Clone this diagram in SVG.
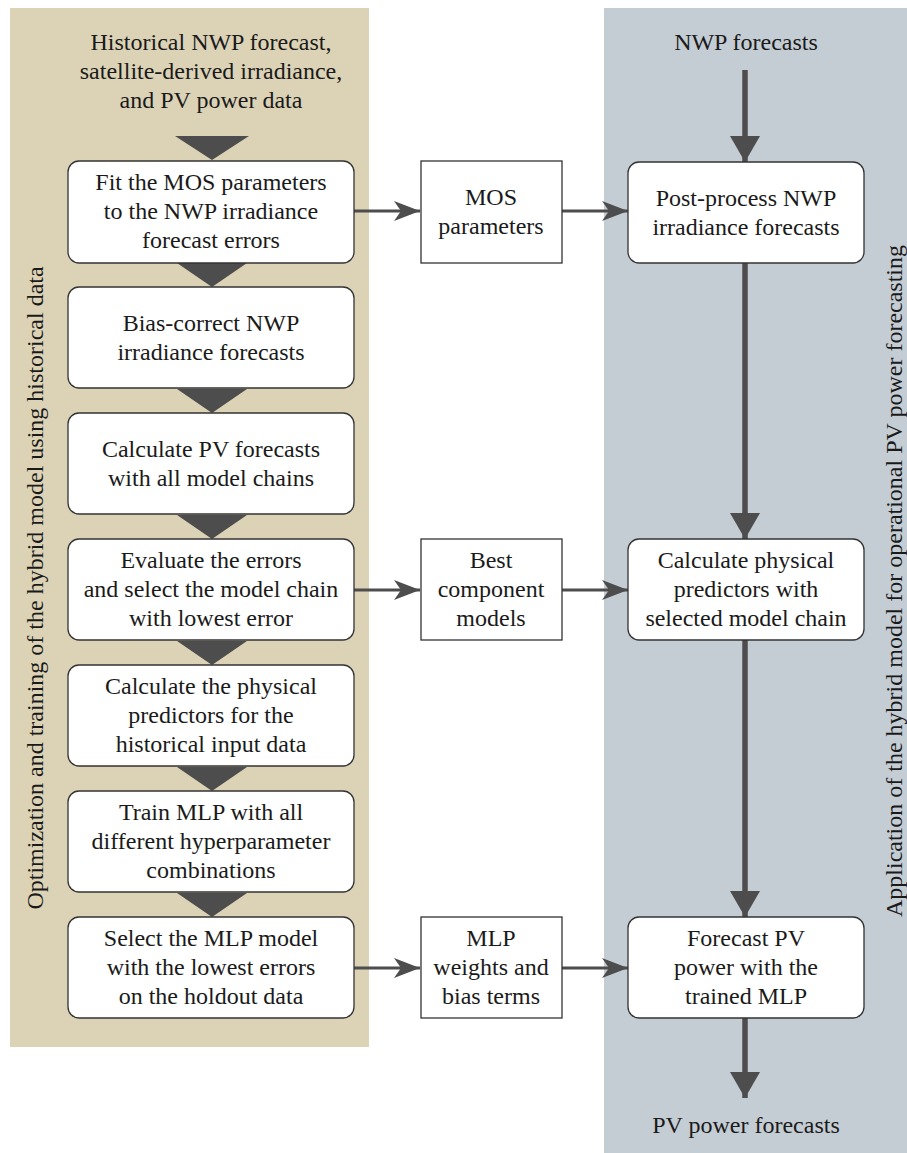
<svg xmlns="http://www.w3.org/2000/svg" width="907" height="1153" viewBox="0 0 907 1153">
<defs>
<marker id="ah" markerUnits="userSpaceOnUse" markerWidth="26" markerHeight="20" refX="26" refY="10" orient="auto" viewBox="0 0 26 20">
<path d="M0,0 L26,10 L0,20 L7,10 z" fill="#4d4d4d"/>
</marker>
<marker id="av" markerUnits="userSpaceOnUse" markerWidth="26" markerHeight="30" refX="26" refY="15" orient="auto" viewBox="0 0 26 30">
<path d="M0,0 L26,15 L0,30 z" fill="#4d4d4d"/>
</marker>
</defs>
<rect x="0" y="0" width="907" height="1153" fill="#fff"/>
<rect id="panel-left" x="10" y="8" width="359" height="1039" fill="#dcd3b7"/>
<rect id="panel-right" x="604" y="8" width="303" height="1145" fill="#c5cdd4"/>
<text font-family="Times New Roman, Liberation Serif, serif" font-size="24" text-anchor="middle" fill="#1a1a1a" transform="translate(43,588) rotate(-90)">Optimization and training of the hybrid model using historical data</text>
<text font-family="Times New Roman, Liberation Serif, serif" font-size="24" text-anchor="middle" fill="#1a1a1a" transform="translate(902,581) rotate(-90)">Application of the hybrid model for operational PV power forecasting</text>

<g id="input-hist"><text font-family="Times New Roman, Liberation Serif, serif" font-size="24" text-anchor="middle" fill="#1a1a1a" x="211" y="50">Historical NWP forecast,</text><text font-family="Times New Roman, Liberation Serif, serif" font-size="24" text-anchor="middle" fill="#1a1a1a" x="211" y="79">satellite-derived irradiance,</text><text font-family="Times New Roman, Liberation Serif, serif" font-size="24" text-anchor="middle" fill="#1a1a1a" x="211" y="108">and PV power data</text></g>
<g id="input-nwp"><text font-family="Times New Roman, Liberation Serif, serif" font-size="24" text-anchor="middle" fill="#1a1a1a" x="746" y="50">NWP forecasts</text></g>
<g id="output-pv"><text font-family="Times New Roman, Liberation Serif, serif" font-size="24" text-anchor="middle" fill="#1a1a1a" x="746" y="1133">PV power forecasts</text></g>

<g id="triangles" fill="#4d4d4d">
<polygon points="175,136 249,136 212,160"/>
<polygon points="177,263 247,263 212,287"/>
<polygon points="177,389 247,389 212,413"/>
<polygon points="177,515 247,515 212,539"/>
<polygon points="177,641 247,641 212,665"/>
<polygon points="177,767 247,767 212,791"/>
<polygon points="177,893 247,893 212,917"/>
</g>

<g id="connectors" stroke="#4d4d4d" fill="none">
<line stroke-width="3" x1="354" y1="211" x2="420" y2="211" marker-end="url(#ah)"/>
<line stroke-width="3" x1="562" y1="211" x2="628" y2="211" marker-end="url(#ah)"/>
<line stroke-width="3" x1="354" y1="590" x2="420" y2="590" marker-end="url(#ah)"/>
<line stroke-width="3" x1="562" y1="590" x2="628" y2="590" marker-end="url(#ah)"/>
<line stroke-width="3" x1="354" y1="968" x2="420" y2="968" marker-end="url(#ah)"/>
<line stroke-width="3" x1="562" y1="968" x2="628" y2="968" marker-end="url(#ah)"/>
<line stroke-width="5.5" x1="745" y1="70" x2="745" y2="162" marker-end="url(#av)"/>
<line stroke-width="5.5" x1="745" y1="263" x2="745" y2="539" marker-end="url(#av)"/>
<line stroke-width="5.5" x1="745" y1="640" x2="745" y2="917" marker-end="url(#av)"/>
<line stroke-width="5.5" x1="745" y1="1018" x2="745" y2="1098" marker-end="url(#av)"/>
</g>

<g id="l1"><rect fill="#fff" stroke="#333" stroke-width="1.3" x="68" y="161" width="286" height="102" rx="11"/><text font-family="Times New Roman, Liberation Serif, serif" font-size="24" text-anchor="middle" fill="#1a1a1a" x="211" y="190">Fit the MOS parameters</text><text font-family="Times New Roman, Liberation Serif, serif" font-size="24" text-anchor="middle" fill="#1a1a1a" x="211" y="219">to the NWP irradiance</text><text font-family="Times New Roman, Liberation Serif, serif" font-size="24" text-anchor="middle" fill="#1a1a1a" x="211" y="248">forecast errors</text></g>
<g id="l2"><rect fill="#fff" stroke="#333" stroke-width="1.3" x="68" y="287" width="286" height="101" rx="11"/><text font-family="Times New Roman, Liberation Serif, serif" font-size="24" text-anchor="middle" fill="#1a1a1a" x="211" y="331">Bias-correct NWP</text><text font-family="Times New Roman, Liberation Serif, serif" font-size="24" text-anchor="middle" fill="#1a1a1a" x="211" y="360">irradiance forecasts</text></g>
<g id="l3"><rect fill="#fff" stroke="#333" stroke-width="1.3" x="68" y="413" width="286" height="101" rx="11"/><text font-family="Times New Roman, Liberation Serif, serif" font-size="24" text-anchor="middle" fill="#1a1a1a" x="211" y="457">Calculate PV forecasts</text><text font-family="Times New Roman, Liberation Serif, serif" font-size="24" text-anchor="middle" fill="#1a1a1a" x="211" y="486">with all model chains</text></g>
<g id="l4"><rect fill="#fff" stroke="#333" stroke-width="1.3" x="68" y="539" width="286" height="101" rx="11"/><text font-family="Times New Roman, Liberation Serif, serif" font-size="24" text-anchor="middle" fill="#1a1a1a" x="211" y="568">Evaluate the errors</text><text font-family="Times New Roman, Liberation Serif, serif" font-size="24" text-anchor="middle" fill="#1a1a1a" x="211" y="597">and select the model chain</text><text font-family="Times New Roman, Liberation Serif, serif" font-size="24" text-anchor="middle" fill="#1a1a1a" x="211" y="626">with lowest error</text></g>
<g id="l5"><rect fill="#fff" stroke="#333" stroke-width="1.3" x="68" y="665" width="286" height="101" rx="11"/><text font-family="Times New Roman, Liberation Serif, serif" font-size="24" text-anchor="middle" fill="#1a1a1a" x="211" y="694">Calculate the physical</text><text font-family="Times New Roman, Liberation Serif, serif" font-size="24" text-anchor="middle" fill="#1a1a1a" x="211" y="723">predictors for the</text><text font-family="Times New Roman, Liberation Serif, serif" font-size="24" text-anchor="middle" fill="#1a1a1a" x="211" y="752">historical input data</text></g>
<g id="l6"><rect fill="#fff" stroke="#333" stroke-width="1.3" x="68" y="791" width="286" height="101" rx="11"/><text font-family="Times New Roman, Liberation Serif, serif" font-size="24" text-anchor="middle" fill="#1a1a1a" x="211" y="820">Train MLP with all</text><text font-family="Times New Roman, Liberation Serif, serif" font-size="24" text-anchor="middle" fill="#1a1a1a" x="211" y="849">different hyperparameter</text><text font-family="Times New Roman, Liberation Serif, serif" font-size="24" text-anchor="middle" fill="#1a1a1a" x="211" y="878">combinations</text></g>
<g id="l7"><rect fill="#fff" stroke="#333" stroke-width="1.3" x="68" y="917" width="286" height="101" rx="11"/><text font-family="Times New Roman, Liberation Serif, serif" font-size="24" text-anchor="middle" fill="#1a1a1a" x="211" y="946">Select the MLP model</text><text font-family="Times New Roman, Liberation Serif, serif" font-size="24" text-anchor="middle" fill="#1a1a1a" x="211" y="975">with the lowest errors</text><text font-family="Times New Roman, Liberation Serif, serif" font-size="24" text-anchor="middle" fill="#1a1a1a" x="211" y="1004">on the holdout data</text></g>

<g id="m1"><rect fill="#fff" stroke="#333" stroke-width="1.3" x="421" y="161" width="141" height="102"/><text font-family="Times New Roman, Liberation Serif, serif" font-size="24" text-anchor="middle" fill="#1a1a1a" x="491" y="205">MOS</text><text font-family="Times New Roman, Liberation Serif, serif" font-size="24" text-anchor="middle" fill="#1a1a1a" x="491" y="234">parameters</text></g>
<g id="m2"><rect fill="#fff" stroke="#333" stroke-width="1.3" x="421" y="539" width="141" height="101"/><text font-family="Times New Roman, Liberation Serif, serif" font-size="24" text-anchor="middle" fill="#1a1a1a" x="491" y="568">Best</text><text font-family="Times New Roman, Liberation Serif, serif" font-size="24" text-anchor="middle" fill="#1a1a1a" x="491" y="597">component</text><text font-family="Times New Roman, Liberation Serif, serif" font-size="24" text-anchor="middle" fill="#1a1a1a" x="491" y="626">models</text></g>
<g id="m3"><rect fill="#fff" stroke="#333" stroke-width="1.3" x="421" y="917" width="141" height="101"/><text font-family="Times New Roman, Liberation Serif, serif" font-size="24" text-anchor="middle" fill="#1a1a1a" x="491" y="946">MLP</text><text font-family="Times New Roman, Liberation Serif, serif" font-size="24" text-anchor="middle" fill="#1a1a1a" x="491" y="975">weights and</text><text font-family="Times New Roman, Liberation Serif, serif" font-size="24" text-anchor="middle" fill="#1a1a1a" x="491" y="1004">bias terms</text></g>

<g id="r1"><rect fill="#fff" stroke="#333" stroke-width="1.3" x="628" y="162" width="236" height="101" rx="11"/><text font-family="Times New Roman, Liberation Serif, serif" font-size="24" text-anchor="middle" fill="#1a1a1a" x="746" y="206">Post-process NWP</text><text font-family="Times New Roman, Liberation Serif, serif" font-size="24" text-anchor="middle" fill="#1a1a1a" x="746" y="235">irradiance forecasts</text></g>
<g id="r2"><rect fill="#fff" stroke="#333" stroke-width="1.3" x="628" y="539" width="236" height="101" rx="11"/><text font-family="Times New Roman, Liberation Serif, serif" font-size="24" text-anchor="middle" fill="#1a1a1a" x="746" y="568">Calculate physical</text><text font-family="Times New Roman, Liberation Serif, serif" font-size="24" text-anchor="middle" fill="#1a1a1a" x="746" y="597">predictors with</text><text font-family="Times New Roman, Liberation Serif, serif" font-size="24" text-anchor="middle" fill="#1a1a1a" x="746" y="626">selected model chain</text></g>
<g id="r3"><rect fill="#fff" stroke="#333" stroke-width="1.3" x="628" y="917" width="236" height="101" rx="11"/><text font-family="Times New Roman, Liberation Serif, serif" font-size="24" text-anchor="middle" fill="#1a1a1a" x="746" y="946">Forecast PV</text><text font-family="Times New Roman, Liberation Serif, serif" font-size="24" text-anchor="middle" fill="#1a1a1a" x="746" y="975">power with the</text><text font-family="Times New Roman, Liberation Serif, serif" font-size="24" text-anchor="middle" fill="#1a1a1a" x="746" y="1004">trained MLP</text></g>
</svg>
